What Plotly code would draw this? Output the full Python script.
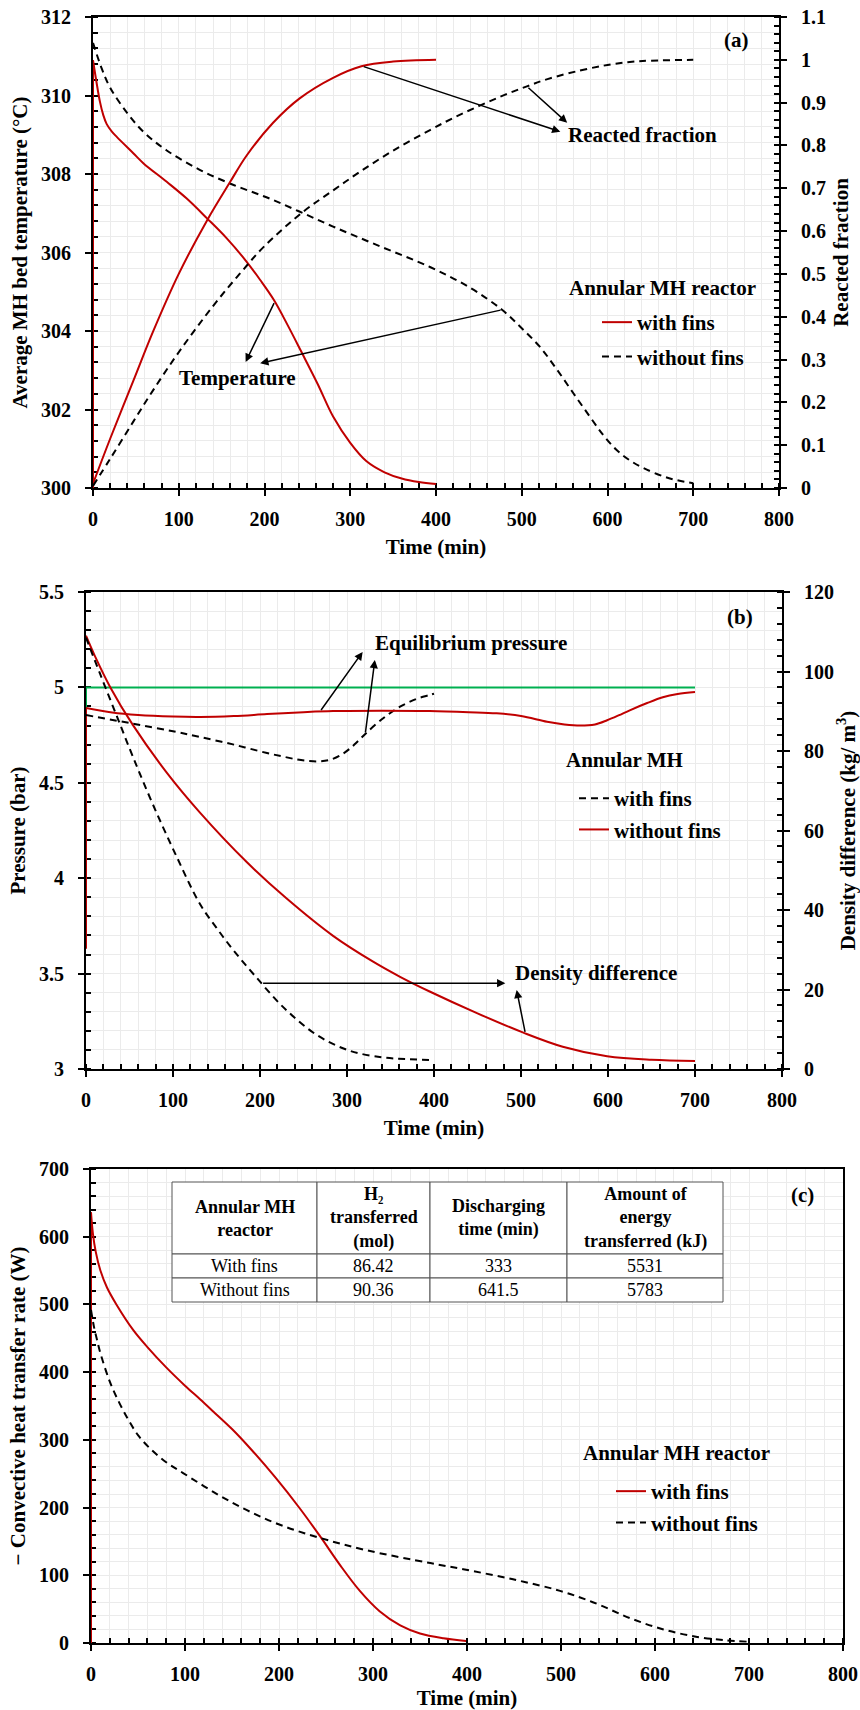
import numpy as np
import plotly.graph_objects as go

FONT = '"Liberation Serif", "Times New Roman", Tinos, serif'
RED = "#c00000"
GREEN = "#00b050"
GRID = "#ebebeb"
DASH = "7px,5px"
W, H = 860, 1710

# ---------------- (a) bed temperature and reacted fraction ----------------
t_temp_fins = [0, 4, 8, 12, 16, 22, 28, 47, 59, 86, 109, 133, 156, 179, 195, 211, 227, 243,
               262, 280, 300, 319, 340, 360, 380, 400]
temp_fins = [310.9, 310.35, 309.85, 309.5, 309.27, 309.08, 308.94, 308.53, 308.27, 307.8,
             307.38, 306.87, 306.36, 305.77, 305.3, 304.79, 304.15, 303.47, 302.65, 301.82,
             301.15, 300.68, 300.4, 300.24, 300.15, 300.1]
t_temp_nofins = [0, 10, 20, 40, 60, 86, 125, 164, 203, 240, 280, 330, 393, 440, 477, 500,
                 521, 540, 560, 580, 595, 610, 625, 641, 670, 700]
temp_nofins = [311.34, 310.7, 310.2, 309.55, 309.05, 308.6, 308.1, 307.72, 307.4, 307.05,
               306.66, 306.2, 305.63, 305.1, 304.54, 304.07, 303.6, 303.05, 302.42, 301.8,
               301.35, 300.98, 300.72, 300.52, 300.26, 300.12]
t_start = [0, 0]
temp_fins_start = [300.0, 310.9]

t_frac_fins = [0, 20, 47, 70, 100, 133, 160, 179, 210, 241, 280, 313, 350, 400]
frac_fins = [0.01, 0.115, 0.25, 0.365, 0.5, 0.625, 0.715, 0.776, 0.853, 0.91, 0.958, 0.985,
             0.996, 1.0]
t_frac_nofins = [0, 20, 47, 70, 101, 140, 171, 200, 245, 280, 311, 350, 393, 420, 451, 480,
                 506, 530, 568, 600, 626, 650, 700]
frac_nofins = [0.005, 0.068, 0.155, 0.228, 0.32, 0.425, 0.5, 0.565, 0.645, 0.695, 0.738,
               0.788, 0.836, 0.864, 0.893, 0.918, 0.938, 0.955, 0.975, 0.988, 0.995, 0.998, 1.0]

# ---------------- (b) pressure and density difference ----------------
t_p_nofins = [0, 30, 60, 100, 131, 170, 208, 250, 284, 340, 395, 440, 472, 500, 530, 550,
              568, 585, 599, 612, 625, 645, 663, 680, 700]
p_nofins = [4.892, 4.868, 4.855, 4.847, 4.845, 4.85, 4.86, 4.87, 4.876, 4.878, 4.876, 4.87,
            4.864, 4.85, 4.82, 4.806, 4.8, 4.806, 4.828, 4.853, 4.88, 4.918, 4.948, 4.965, 4.976]
p_nofins_start = [3.63, 4.892]
t_p_fins = [0, 54, 100, 131, 170, 208, 228, 243, 256, 268, 280, 292, 303, 313, 323, 342,
            361, 380, 395, 400]
p_fins = [4.855, 4.81, 4.77, 4.74, 4.7, 4.656, 4.636, 4.622, 4.614, 4.612, 4.62, 4.643,
          4.678, 4.72, 4.765, 4.84, 4.899, 4.94, 4.96, 4.967]
t_p_eq = [0, 700]
p_eq = [5.0, 5.0]
p_eq_start = [4.88, 5.0]

t_d_nofins = [0, 10, 28, 54, 93, 131, 185, 230, 284, 330, 361, 395, 450, 502, 548, 599, 650, 700]
d_nofins = [109, 104, 96, 86.5, 74.5, 64.5, 52, 43, 33.5, 27, 23.2, 19.5, 14, 9.2, 5.6, 3.2,
            2.3, 2.0]
t_d_fins = [0, 16, 35, 54, 77, 104, 131, 150, 169, 194, 227, 265, 303, 342, 370, 400]
d_fins = [108.5, 99.5, 89, 78.5, 66.5, 53.5, 41.5, 35.5, 30, 23.5, 15.5, 8.6, 4.6, 2.9, 2.5, 2.2]

# ---------------- (c) convective heat transfer rate ----------------
t_q_fins = [0, 2, 5, 10, 17, 27, 45, 60, 80, 100, 116, 130, 150, 169, 197, 222, 244, 265,
            286, 307, 329, 350, 375, 399]
q_fins = [636, 605, 578, 550, 525, 500, 462, 437, 407, 380, 360, 342, 316, 288, 243, 199,
          157, 115, 77, 47, 26, 14, 7, 3]
q_fins_start = [0, 636]
t_q_nofins = [0, 3, 6, 10, 20, 30, 40, 50, 63, 80, 98, 134, 169, 204, 244, 293, 361, 396,
              449, 499, 538, 573, 609, 645, 675, 698]
q_nofins = [492, 468, 450, 428, 386, 355, 329, 307, 287, 267, 251, 220, 194, 173, 155, 137,
            118, 109, 94, 77, 58, 37, 20, 9, 4, 2]

table_header = ["Annular MH<br>reactor", "H₂<br>transferred<br>(mol)",
                "Discharging<br>time (min)", "Amount of<br>energy<br>transferred (kJ)"]
table_reactor = ["With fins", "Without fins"]
table_h2_mol = ["86.42", "90.36"]
table_time_min = ["333", "641.5"]
table_energy_kj = ["5531", "5783"]

fig = go.Figure()


def curve(x, y, xa, ya, color, dash="solid", name=None, legend="legend", group=None,
          show=False, smooth=True):
    line = dict(color=color, width=2, dash=dash)
    if smooth:
        line.update(shape="spline", smoothing=1.0)
    fig.add_trace(go.Scatter(x=x, y=y, xaxis=xa, yaxis=ya, mode="lines", line=line,
                             name=name, showlegend=show, legend=legend,
                             legendgroup=group, hoverinfo="skip"))


# (a)
curve(t_start, temp_fins_start, "x", "y", RED, smooth=False)
curve(t_temp_fins, temp_fins, "x", "y", RED, name="with fins", legend="legend",
      group="a1", show=True)
curve(t_temp_nofins, temp_nofins, "x", "y", "black", DASH, name="without fins",
      legend="legend", group="a2", show=True)
curve(t_frac_fins, frac_fins, "x", "y2", RED)
curve(t_frac_nofins, frac_nofins, "x", "y2", "black", DASH)

# (b)
curve(t_start, p_eq_start, "x2", "y3", GREEN, smooth=False)
curve(t_p_eq, p_eq, "x2", "y3", GREEN, smooth=False)
curve(t_start, p_nofins_start, "x2", "y3", RED, smooth=False)
curve(t_p_fins, p_fins, "x2", "y3", "black", DASH, name="with fins", legend="legend2",
      group="b1", show=True)
curve(t_p_nofins, p_nofins, "x2", "y3", RED, name="without fins", legend="legend2",
      group="b2", show=True)
curve(t_d_nofins, d_nofins, "x2", "y4", RED)
curve(t_d_fins, d_fins, "x2", "y4", "black", DASH)

# (c)
curve(t_start, q_fins_start, "x3", "y5", RED, smooth=False)
curve(t_q_fins, q_fins, "x3", "y5", RED, name="with fins", legend="legend3",
      group="c1", show=True)
curve(t_q_nofins, q_nofins, "x3", "y5", "black", DASH, name="without fins",
      legend="legend3", group="c2", show=True)


def px_dom_x(a, b):
    return [a / W, b / W]


def px_dom_y(top, bottom):
    return [1 - bottom / H, 1 - top / H]


tickfont = dict(family=FONT, size=20, color="black", weight="bold")
titlefont = dict(family=FONT, size=21, color="black", weight="bold")


def x_axis(domain, anchor):
    return dict(domain=domain, anchor=anchor, range=[0, 800], tick0=0, dtick=100,
                ticks="outside", ticklen=6, tickwidth=2, tickcolor="black",
                showline=True, linewidth=2, linecolor="black", mirror=True,
                showgrid=True, gridcolor=GRID, gridwidth=1, zeroline=False,
                minor=dict(dtick=20, ticks="inside", ticklen=5, tickwidth=1.5,
                           tickcolor="black", showgrid=True, gridcolor=GRID),
                tickfont=tickfont, ticklabelstandoff=6, layer="below traces",
                automargin=False,
                title=dict(text="Time (min)", font=titlefont, standoff=10))


def y_axis(domain, anchor, rng, dtick, minor, title, side="left", grid=True,
           overlay=None, mirror=False, standoff=8):
    ax = dict(domain=domain, anchor=anchor, range=rng, tick0=rng[0], dtick=dtick,
              side=side, ticks="outside", ticklen=6, tickwidth=2, tickcolor="black",
              showline=True, linewidth=2, linecolor="black", mirror=mirror,
              showgrid=grid, gridcolor=GRID, gridwidth=1, zeroline=False,
              minor=dict(dtick=minor, ticks="inside", ticklen=5, tickwidth=1.5,
                         tickcolor="black", showgrid=grid, gridcolor=GRID),
              tickfont=tickfont, ticklabelstandoff=10, layer="below traces",
              automargin=False,
              title=dict(text=title, font=titlefont, standoff=standoff))
    if overlay:
        ax["overlaying"] = overlay
    return ax


dom_xa = px_dom_x(93, 779)
dom_ya = px_dom_y(17, 488)
dom_xb = px_dom_x(86, 782)
dom_yb = px_dom_y(592, 1069)
dom_xc = px_dom_x(91, 843)
dom_yc = px_dom_y(1169, 1643)

fig.update_layout(
    width=W, height=H, autosize=False,
    margin=dict(l=0, r=0, t=0, b=0, autoexpand=False),
    paper_bgcolor="white", plot_bgcolor="white",
    font=dict(family=FONT, size=21, color="black", weight="bold"),
    xaxis=x_axis(dom_xa, "y"),
    yaxis=y_axis(dom_ya, "x", [300, 312], 2, 0.4, "Average MH bed temperature (°C)"),
    yaxis2=y_axis(dom_ya, "x", [0, 1.1], 0.1, 0.02, "Reacted fraction", side="right",
                  grid=False, overlay="y"),
    xaxis2=x_axis(dom_xb, "y3"),
    yaxis3=y_axis(dom_yb, "x2", [3, 5.5], 0.5, 0.1, "Pressure (bar)"),
    yaxis4=y_axis(dom_yb, "x2", [0, 120], 20, 4, "Density difference (kg/ m<sup>3</sup>)",
                  side="right", grid=False, overlay="y3"),
    xaxis3=x_axis(dom_xc, "y5"),
    yaxis5=y_axis(dom_yc, "x3", [0, 700], 100, 20, "− Convective heat transfer rate (W)",
                  mirror=True),
)

legend_common = dict(xanchor="left", yanchor="top", bgcolor="rgba(0,0,0,0)",
                     borderwidth=0, itemwidth=30, traceorder="grouped",
                     font=dict(family=FONT, size=21, color="black", weight="bold"))
fig.update_layout(
    legend=dict(x=597 / W, y=1 - 302 / H, tracegroupgap=4, **legend_common),
    legend2=dict(x=574 / W, y=1 - 778 / H, tracegroupgap=1, **legend_common),
    legend3=dict(x=611 / W, y=1 - 1471 / H, tracegroupgap=1, **legend_common),
)


def arrow(xa, ya, tail_x, tail_y, head_x, head_y):
    return dict(x=head_x, y=head_y, ax=tail_x, ay=tail_y, xref=xa, yref=ya,
                axref=xa, ayref=ya, text="", showarrow=True, arrowhead=2,
                arrowsize=1.1, arrowwidth=1.5, arrowcolor="black", standoff=0)


def label(xa, ya, x, y, text, xanchor="center", size=21, weight="bold"):
    return dict(x=x, y=y, xref=xa, yref=ya, text=text, showarrow=False,
                xanchor=xanchor, yanchor="middle",
                font=dict(family=FONT, size=size, color="black", weight=weight))


def on(tt, vv, t):
    return float(np.interp(t, tt, vv))


d_level = 21.6
t_d_level = float(np.interp(-d_level, [-v for v in d_fins], t_d_fins))

annotations = [
    # (a)
    label("x", "y", 751, 311.41, "(a)"),
    label("x", "y2", 641, 0.825, "Reacted fraction"),
    arrow("x", "y2", 314, on(t_frac_fins, frac_fins, 314), 545, 0.832),
    arrow("x", "y2", 506, on(t_frac_nofins, frac_nofins, 506), 553, 0.853),
    label("x", "y", 168, 302.8, "Temperature"),
    arrow("x", "y", 212, on(t_temp_fins, temp_fins, 212), 178, 303.21),
    arrow("x", "y", 477, on(t_temp_nofins, temp_nofins, 477), 195, 303.18),
    label("x", "y", 664, 305.1, "Annular MH reactor"),
    # (b)
    label("x2", "y3", 752, 5.369, "(b)"),
    label("x2", "y3", 442.5, 5.233, "Equilibrium pressure"),
    arrow("x2", "y3", 269, on(t_p_nofins, p_nofins, 269), 318, 5.186),
    arrow("x2", "y3", 321, on(t_p_fins, p_fins, 321), 332, 5.144),
    label("x2", "y4", 586, 24.2, "Density difference"),
    arrow("x2", "y4", t_d_level, d_level, 482, d_level),
    arrow("x2", "y4", 505, on(t_d_nofins, d_nofins, 505), 495, 19.9),
    label("x2", "y3", 619.5, 4.62, "Annular MH"),
    # (c)
    label("x3", "y5", 757, 661.6, "(c)"),
    label("x3", "y5", 623, 280.6, "Annular MH reactor"),
]

# summary table drawn inside panel (c)
tbl_left, tbl_top = 172, 1182
col_widths = [145, 113, 137, 156]
row_heights = [72, 24, 24]
table_columns = [table_reactor, table_h2_mol, table_time_min, table_energy_kj]
shapes = []
x_edges = [tbl_left]
for w_ in col_widths:
    x_edges.append(x_edges[-1] + w_)
y_edges = [tbl_top]
for h_ in row_heights:
    y_edges.append(y_edges[-1] + h_)
for r in range(len(row_heights)):
    for c in range(len(col_widths)):
        x0, x1 = x_edges[c] / W, x_edges[c + 1] / W
        y0, y1 = 1 - y_edges[r + 1] / H, 1 - y_edges[r] / H
        shapes.append(dict(type="rect", xref="paper", yref="paper", x0=x0, x1=x1,
                           y0=y0, y1=y1, fillcolor="white",
                           line=dict(color="#555555", width=1), layer="above"))
        if r == 0:
            txt, wt = table_header[c], "bold"
        else:
            txt, wt = table_columns[c][r - 1], "normal"
        annotations.append(dict(x=(x0 + x1) / 2, y=(y0 + y1) / 2, xref="paper",
                                yref="paper", text=txt, showarrow=False,
                                xanchor="center", yanchor="middle", align="center",
                                font=dict(family=FONT, size=18, color="black", weight=wt)))

fig.update_layout(annotations=annotations, shapes=shapes)

fig.write_html("out.html")
